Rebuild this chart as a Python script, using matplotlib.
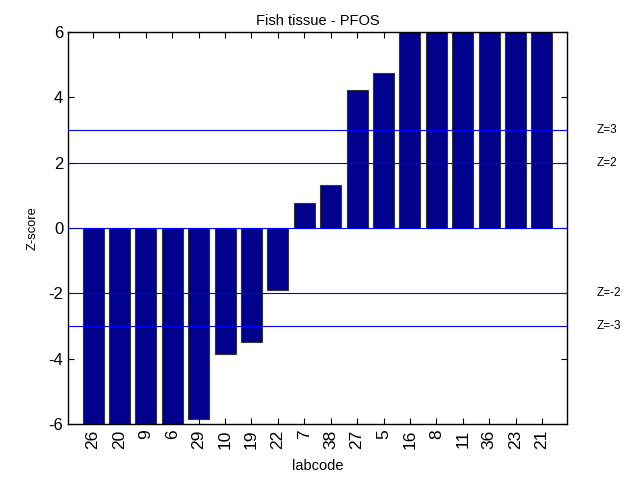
import matplotlib
matplotlib.use("Agg")
import matplotlib.pyplot as plt
import numpy as np

plt.rcParams['font.family'] = ['Liberation Sans', 'DejaVu Sans']

labcodes = ["26", "20", "9", "6", "29", "10", "19", "22", "7", "38", "27", "5",
            "16", "8", "11", "36", "23", "21"]
zscores = [-7.0, -7.0, -7.0, -7.0, -5.84, -3.87, -3.50, -1.91, 0.77, 1.31, 4.22, 4.73,
           7.0, 7.0, 7.0, 7.0, 7.0, 7.0]
limit_values = [3, 2, 0, -2, -3]
limit_labels = ["Z=3", "Z=2", "", "Z=-2", "Z=-3"]
yticks = [-6, -4, -2, 0, 2, 4, 6]

fig = plt.figure(figsize=(6.42, 4.78), dpi=100)
ax = fig.add_axes([68/642, 1 - 424/478, (567-68)/642, (424-32)/478])

x = np.arange(1, len(labcodes) + 1)
ax.bar(x, zscores, width=0.8, color='#00008C', edgecolor='#333333', linewidth=0.8, zorder=2)

for v, lab in zip(limit_values, limit_labels):
    ax.axhline(v, color='#0000FF', linewidth=0.8, zorder=3)
    if lab:
        ax.text(1.06, v, lab, transform=ax.get_yaxis_transform(), fontsize=8.5,
                va='center', ha='left')

ax.set_xlim(0.05, len(labcodes) + 0.95)
ax.set_ylim(-6, 6)
ax.set_yticks(yticks)
ax.set_yticklabels([str(t) for t in yticks], fontsize=12)
ax.set_xticks(x)
ax.set_xticklabels(labcodes, rotation=90, fontsize=12.5)
ax.tick_params(direction='in', top=True, right=True, length=4, width=0.8)
ax.tick_params(axis='x', pad=4)
for s in ax.spines.values():
    s.set_linewidth(1.0)

ax.set_title("Fish tissue - PFOS", fontsize=10.5, pad=5)
ax.set_xlabel("labcode", fontsize=10.5, labelpad=7)
ax.set_ylabel("Z-score", fontsize=9.3, labelpad=7)

fig.savefig("out.png", dpi=100)
